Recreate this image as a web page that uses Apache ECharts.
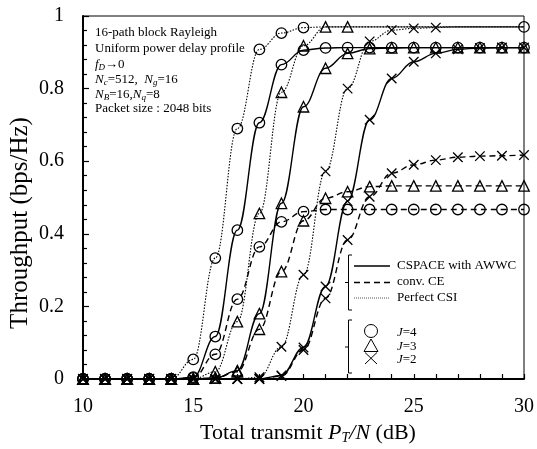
<!DOCTYPE html>
<html>
<head>
<meta charset="utf-8">
<script src="https://cdn.jsdelivr.net/npm/echarts@6/dist/echarts.min.js"></script>
<style>
html,body{margin:0;padding:0;background:#fff;}
#chart{width:537px;height:449px;}
</style>
</head>
<body>
<div id="chart"></div>
<script>
// ---- data ----
const snrDb = [10,11,12,13,14,15,16,17,18,19,20,21,22,23,24,25,26,27,28,29,30];
const xTickLabels = ['10','15','20','25','30'];
const yTickLabels = ['0','0.2','0.4','0.6','0.8','1'];

const cspaceJ4 = [0,0,0,0,0,0.005,0.117,0.41,0.706,0.866,0.906,0.912,0.913,0.913,0.913,0.913,0.913,0.913,0.913,0.913,0.913];
const cspaceJ3 = [0,0,0,0,0,0,0.003,0.023,0.18,0.484,0.75,0.856,0.897,0.91,0.912,0.913,0.913,0.913,0.913,0.913,0.913];
const cspaceJ2 = [0,0,0,0,0,0,0,0,0,0.01,0.087,0.255,0.49,0.714,0.828,0.874,0.897,0.908,0.912,0.913,0.913];

const convJ4 = [0,0,0,0,0,0.003,0.068,0.22,0.364,0.433,0.461,0.467,0.467,0.467,0.467,0.467,0.467,0.467,0.467,0.467,0.467];
const convJ3 = [0,0,0,0,0,0,0.003,0.02,0.137,0.296,0.436,0.498,0.516,0.53,0.532,0.532,0.532,0.532,0.532,0.532,0.532];
const convJ2 = [0,0,0,0,0,0,0,0,0,0.008,0.08,0.222,0.383,0.502,0.567,0.59,0.603,0.611,0.614,0.615,0.617];

const perfectJ4 = [0,0,0,0,0,0.054,0.333,0.69,0.908,0.953,0.968,0.97,0.97,0.97,0.97,0.97,0.97,0.97,0.97,0.97,0.97];
const perfectJ3 = [0,0,0,0,0,0,0.02,0.158,0.456,0.79,0.918,0.97,0.97,0.97,0.97,0.97,0.97,0.97,0.97,0.97,0.97];
const perfectJ2 = [0,0,0,0,0,0,0,0,0.005,0.089,0.287,0.572,0.8,0.93,0.961,0.966,0.968,0.97,0.97,0.97,0.97];

// x values up to which markers are drawn on the Perfect CSI curves
const perfectMarkerUntil = {J4: 20, J3: 22, J2: 26};
const perfectExtraMarker = {J4: [30], J3: [], J2: []};

// ---- styling ----
const FONT = "'Liberation Serif','Times New Roman',serif";
const crossPath = 'path://M0,0L10,10M10,0L0,10';
const markerDefs = {
  J4: {symbol: 'circle', size: 10.5},
  J3: {symbol: 'triangle', size: 10.5},
  J2: {symbol: crossPath, size: 9.5}
};
const lineDefs = {
  cspace: {type: 'solid', width: 1.4},
  conv: {type: [6, 4], width: 1.4},
  perfect: {type: [1.5, 1.5], width: 1.1}
};

function makeSeries(name, values, scheme, j) {
  const data = snrDb.map((x, i) => {
    const item = {value: [x, values[i]]};
    if (scheme === 'perfect') {
      const show = x <= perfectMarkerUntil[j] || perfectExtraMarker[j].indexOf(x) >= 0;
      if (!show) item.symbol = 'none';
    }
    return item;
  });
  return {
    name: name,
    type: 'line',
    data: data,
    smooth: 0.4,
    smoothMonotone: 'x',
    symbol: markerDefs[j].symbol,
    symbolSize: markerDefs[j].size,
    showAllSymbol: true,
    lineStyle: {color: '#000', width: lineDefs[scheme].width, type: lineDefs[scheme].type},
    itemStyle: {color: 'rgba(0,0,0,0)', borderColor: '#000', borderWidth: 1.3},
    emphasis: {disabled: true},
    animation: false
  };
}

const series = [
  makeSeries('perfect J4', perfectJ4, 'perfect', 'J4'),
  makeSeries('perfect J3', perfectJ3, 'perfect', 'J3'),
  makeSeries('perfect J2', perfectJ2, 'perfect', 'J2'),
  makeSeries('conv J4', convJ4, 'conv', 'J4'),
  makeSeries('conv J3', convJ3, 'conv', 'J3'),
  makeSeries('conv J2', convJ2, 'conv', 'J2'),
  makeSeries('cspace J4', cspaceJ4, 'cspace', 'J4'),
  makeSeries('cspace J3', cspaceJ3, 'cspace', 'J3'),
  makeSeries('cspace J2', cspaceJ2, 'cspace', 'J2')
];

// annotation / legend graphics
const txt = (x, y, text, size, extra) => Object.assign({
  type: 'text', x: x, y: y, silent: true,
  style: Object.assign({text: text, font: size + 'px ' + FONT, fill: '#000', verticalAlign: 'middle', align: 'left'}, extra || {})
});
const richBase = {
  n: {fontSize: 13, fontFamily: FONT, lineHeight: 15, verticalAlign: 'middle'},
  i: {fontSize: 13, fontFamily: FONT, fontStyle: 'italic', lineHeight: 15, verticalAlign: 'middle'},
  s: {fontSize: 9, fontFamily: FONT, fontStyle: 'italic', lineHeight: 9, verticalAlign: 'bottom'}
};
const ln = (x1, y1, x2, y2, w, dash, color) => ({
  type: 'line', silent: true,
  shape: {x1: x1, y1: y1, x2: x2, y2: y2},
  style: {stroke: color || '#000', lineWidth: w || 1, lineDash: dash || null}
});

const graphics = [
  txt(95, 33, '16-path block Rayleigh', 13),
  txt(95, 49, 'Uniform power delay profile', 13),
  {type: 'text', x: 95, y: 65, silent: true, style: {text: '{i|f}{s|D}{n|→0}', rich: richBase, verticalAlign: 'middle'}},
  {type: 'text', x: 95, y: 80, silent: true, style: {text: '{i|N}{s|c}{n|=512,  }{i|N}{s|g}{n|=16}', rich: richBase, verticalAlign: 'middle'}},
  {type: 'text', x: 95, y: 95, silent: true, style: {text: '{i|N}{s|B}{n|=16,}{i|N}{s|q}{n|=8}', rich: richBase, verticalAlign: 'middle'}},
  txt(95, 109, 'Packet size : 2048 bits', 13),

  // legend brackets
  ln(348.5, 255, 348.5, 310, 1),
  ln(348.5, 255, 352, 255, 1),
  ln(348.5, 310, 352, 310, 1),
  ln(345, 282.5, 348.5, 282.5, 1),
  ln(348.5, 320, 348.5, 373, 1),
  ln(348.5, 320, 352, 320, 1),
  ln(348.5, 373, 352, 373, 1),
  ln(345, 347, 348.5, 347, 1),

  // legend line samples
  ln(354, 266, 390, 266, 1.3),
  ln(354, 282.5, 390, 282.5, 1.3, [6, 4]),
  ln(354, 298, 390, 298, 1, [1, 1], '#555'),
  txt(397, 266, 'CSPACE with AWWC', 13),
  txt(397, 282, 'conv. CE', 13),
  txt(397, 298, 'Perfect CSI', 13),

  // legend markers
  {type: 'circle', silent: true, shape: {cx: 371, cy: 331, r: 6.5}, style: {fill: 'none', stroke: '#000', lineWidth: 1}},
  {type: 'polygon', silent: true, shape: {points: [[371, 339], [364, 351.5], [378, 351.5]]}, style: {fill: 'none', stroke: '#000', lineWidth: 1}},
  ln(365, 352.5, 377, 364, 1),
  ln(377, 352.5, 365, 364, 1),
  {type: 'text', x: 397, y: 333, silent: true, style: {text: '{i|J}{n|=4}', rich: richBase, verticalAlign: 'middle'}},
  {type: 'text', x: 397, y: 347, silent: true, style: {text: '{i|J}{n|=3}', rich: richBase, verticalAlign: 'middle'}},
  {type: 'text', x: 397, y: 360, silent: true, style: {text: '{i|J}{n|=2}', rich: richBase, verticalAlign: 'middle'}},

  // axis titles
  {type: 'text', x: 20, y: 223, rotation: Math.PI / 2, silent: true,
   style: {text: 'Throughput (bps/Hz)', font: '25px ' + FONT, fill: '#000', align: 'center', verticalAlign: 'middle'}},
  {type: 'text', x: 308, y: 433, silent: true,
   style: {
     text: '{n|Total transmit }{i|P}{s|T}{i|/N}{n| (dB)}',
     align: 'center', verticalAlign: 'middle',
     rich: {
       n: {fontSize: 22, fontFamily: FONT, lineHeight: 24, verticalAlign: 'middle'},
       i: {fontSize: 22, fontFamily: FONT, fontStyle: 'italic', lineHeight: 24, verticalAlign: 'middle'},
       s: {fontSize: 14, fontFamily: FONT, fontStyle: 'italic', lineHeight: 14, verticalAlign: 'bottom'}
     }
   }}
];

const chart = echarts.init(document.getElementById('chart'), null, {renderer: 'canvas'});
chart.setOption({
  animation: false,
  backgroundColor: '#fff',
  grid: {left: 83, right: 11, top: 16, bottom: 70, show: true, borderColor: '#000', borderWidth: 1, backgroundColor: 'transparent'},
  xAxis: {
    type: 'value', min: 10, max: 30, interval: 5,
    axisLine: {lineStyle: {color: '#000', width: 2}},
    axisTick: {inside: true, length: 5, lineStyle: {color: '#000', width: 1.2}},
    minorTick: {show: true, splitNumber: 5, length: 5, lineStyle: {color: '#000', width: 1.2}},
    splitLine: {show: false},
    axisLabel: {color: '#000', fontSize: 20, fontFamily: FONT, margin: 18,
      formatter: v => xTickLabels[Math.round((v - 10) / 5)]}
  },
  yAxis: {
    type: 'value', min: 0, max: 1, interval: 0.2,
    axisLine: {lineStyle: {color: '#000', width: 2}},
    axisTick: {inside: true, length: 6, lineStyle: {color: '#000', width: 1.2}},
    minorTick: {show: true, splitNumber: 5, length: 4, lineStyle: {color: '#000', width: 1.2}},
    splitLine: {show: false},
    axisLabel: {color: '#000', fontSize: 20, fontFamily: FONT, margin: 19,
      formatter: v => yTickLabels[Math.round(v / 0.2)]}
  },
  series: series,
  graphic: graphics
});
</script>
</body>
</html>
